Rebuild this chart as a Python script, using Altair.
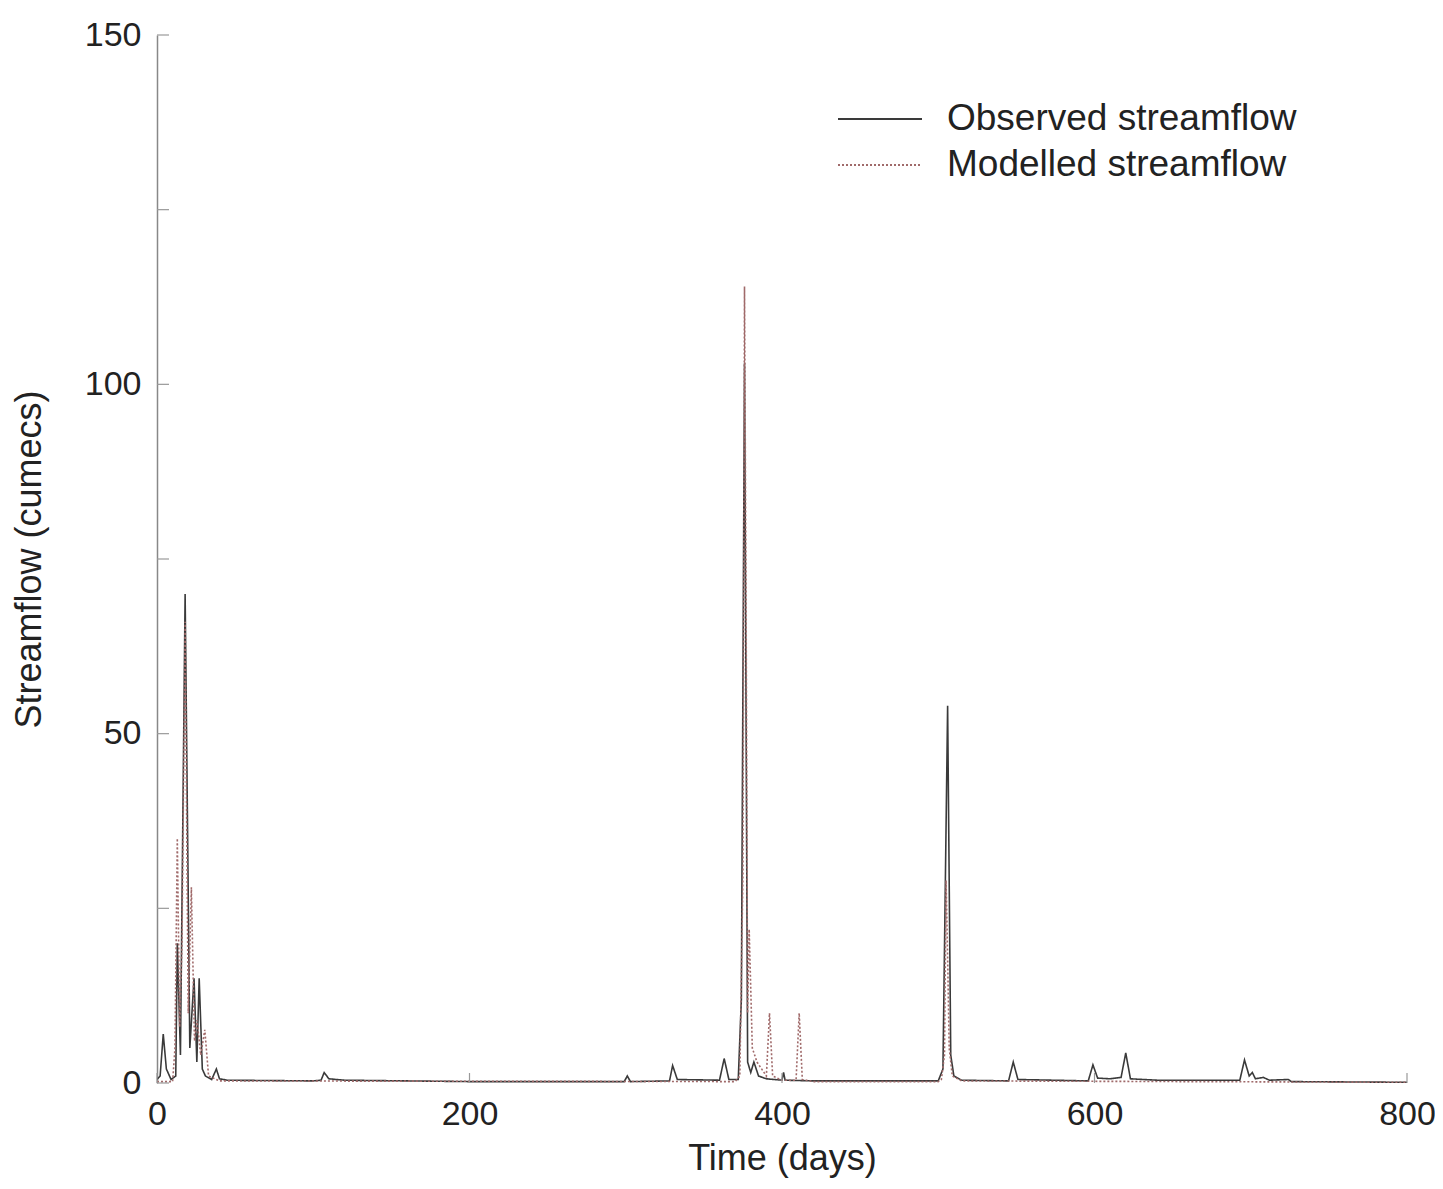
import altair as alt
import pandas as pd

# Observed streamflow (day, cumecs)
obs_day = [0, 2, 4, 6, 9, 12, 13, 15, 18, 21, 23.7, 25.5, 27, 29, 31, 35, 38, 40, 45,
           100, 105, 107, 110, 120, 200, 299, 301, 303, 328, 330, 333, 360, 363, 366,
           372, 374, 376, 378, 380, 382, 385, 390, 400, 401, 402, 420,
           500, 503, 506, 508, 510, 515, 545, 548, 551, 596, 599, 602, 610, 617, 620, 623,
           640, 693, 696, 699, 701, 703, 708, 712, 724, 726, 800]
obs_val = [0.5, 1.0, 7.0, 2.0, 0.5, 1.0, 20.0, 4.0, 70.0, 5.0, 15.0, 3.0, 15.0, 2.0, 1.0, 0.5, 2.0, 0.6, 0.4,
           0.3, 0.4, 1.5, 0.6, 0.4, 0.2, 0.2, 1.0, 0.2, 0.3, 2.5, 0.5, 0.4, 3.5, 0.5,
           0.5, 12.0, 103.0, 3.0, 1.5, 3.0, 1.0, 0.6, 0.4, 1.5, 0.4, 0.3,
           0.3, 2.0, 54.0, 4.0, 1.0, 0.4, 0.3, 3.0, 0.5, 0.3, 2.6, 0.7, 0.6, 0.8, 4.3, 0.6,
           0.4, 0.4, 3.3, 1.0, 1.5, 0.6, 0.8, 0.4, 0.5, 0.2, 0.1]

# Modelled streamflow (day, cumecs)
mod_day = [0, 10, 11.5, 13, 14.5, 16, 18, 20, 22, 24, 25.6, 28, 30.6, 33, 40,
           370, 373, 375, 376, 377, 378, 379, 381, 384, 390, 392, 394, 400, 409, 411, 413, 420,
           500, 502, 504, 505, 506, 507, 509, 515, 800]
mod_val = [0.2, 0.2, 5.0, 35.0, 8.0, 20.0, 66.0, 10.0, 28.0, 6.0, 9.0, 4.0, 7.6, 1.0, 0.3,
           0.2, 1.0, 30.0, 114.0, 70.0, 10.0, 22.0, 5.0, 3.0, 1.0, 10.0, 1.0, 0.4, 0.4, 10.0, 0.5, 0.2,
           0.2, 0.5, 4.0, 29.0, 18.0, 5.0, 1.0, 0.3, 0.1]

series_names = ["Observed streamflow", "Modelled streamflow"]
x_ticks = [0, 200, 400, 600, 800]
y_labels = [0, 50, 100, 150]
y_ticks = [0, 25, 50, 75, 100, 125, 150]

df = pd.concat([
    pd.DataFrame({"t": obs_day, "q": obs_val, "s": series_names[0]}),
    pd.DataFrame({"t": mod_day, "q": mod_val, "s": series_names[1]}),
])

W, H = 1250, 1048
FONT = "Liberation Sans"
TXT = "#222222"

xscale = alt.Scale(domain=[0, 800], nice=False)
yscale = alt.Scale(domain=[0, 150], nice=False, zero=True)

common_axis = dict(labelFont=FONT, titleFont=FONT, labelFontSize=34, titleFontSize=36,
                   titleFontWeight="normal", labelColor=TXT, titleColor=TXT, ticks=False,
                   grid=False, labelFlush=False, labelOverlap=False)

legend_kw = dict(title=None, orient="none", legendX=701, legendY=62,
                 symbolType="M-2,0L2,0", symbolSize=1764, symbolStrokeWidth=1.8,
                 labelOffset=45, labelFontSize=37, labelFont=FONT, labelColor=TXT,
                 rowPadding=6, labelLimit=700)

lines = alt.Chart(df).mark_line(strokeWidth=1.6, clip=True).encode(
    x=alt.X("t:Q", scale=xscale,
            axis=alt.Axis(values=x_ticks, title="Time (days)", domain=False,
                          labelPadding=14, titlePadding=10, **common_axis)),
    y=alt.Y("q:Q", scale=yscale,
            axis=alt.Axis(values=y_labels, title="Streamflow (cumecs)",
                          domain=True, domainColor="#888888", domainWidth=1.5,
                          labelPadding=16, titlePadding=36, **common_axis)),
    color=alt.Color("s:N", scale=alt.Scale(domain=series_names, range=["#3a3a3a", "#a06a6a"]),
                    legend=alt.Legend(**legend_kw)),
    strokeDash=alt.StrokeDash("s:N", scale=alt.Scale(domain=series_names, range=[[1, 0], [2, 2]]),
                              legend=alt.Legend(**legend_kw)),
    order=alt.Order("t:Q"),
)

yt = alt.Chart(pd.DataFrame({"v": y_ticks})).mark_rule(color="#999999", strokeWidth=1.2).encode(
    y=alt.Y("v:Q", scale=yscale), x=alt.value(0), x2=alt.value(12))
xt = alt.Chart(pd.DataFrame({"v": x_ticks})).mark_rule(color="#999999", strokeWidth=1.2).encode(
    x=alt.X("v:Q", scale=xscale), y=alt.value(H), y2=alt.value(H - 10))

chart = alt.layer(lines, yt, xt).properties(
    width=W, height=H,
    background="white",
    autosize=alt.AutoSizeParams(type="none"),
    padding={"left": 149, "top": 27, "right": 28, "bottom": 98},
).configure_view(stroke=None)

chart.save("out.html", embed_options={"renderer": "svg", "actions": False})
